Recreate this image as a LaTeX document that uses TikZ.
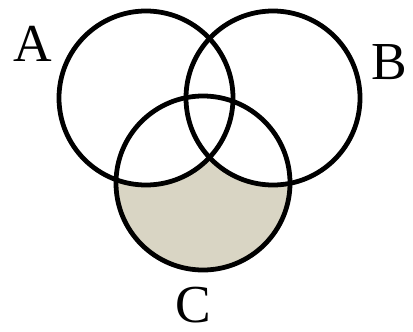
\documentclass[tikz,border=0pt]{standalone}
\usepackage{fontspec}
\setmainfont{Liberation Serif}
\usetikzlibrary{positioning}
\definecolor{diffgray}{RGB}{217,213,196}

\begin{document}
\begin{tikzpicture}[
      x=0.025cm, y=0.025cm,
      ring/.style={draw=black, line width=3.4pt},
      setname/.style={font=\fontsize{38}{40}\selectfont, inner sep=0pt}
    ]
      \useasboundingbox (0,0) rectangle (413,331);
      \coordinate (ca) at (146,233);
      \coordinate (cb) at (273,233);
      \coordinate (cc) at (203,148);
      % C without A and B
      \begin{scope}
        \clip (cc) circle (87);
        \fill[diffgray] (cc) circle (87);
        \fill[white] (ca) circle (87);
        \fill[white] (cb) circle (87);
      \end{scope}
      \draw[ring] (ca) circle (87);
      \draw[ring] (cb) circle (87);
      \draw[ring] (cc) circle (87);
      \node[setname] (la) at (33,287) {A};
      \node[setname] (lb) at (389,269) {B};
      \node[setname] (lc) at (193,26) {C};
    \end{tikzpicture}
\end{document}
